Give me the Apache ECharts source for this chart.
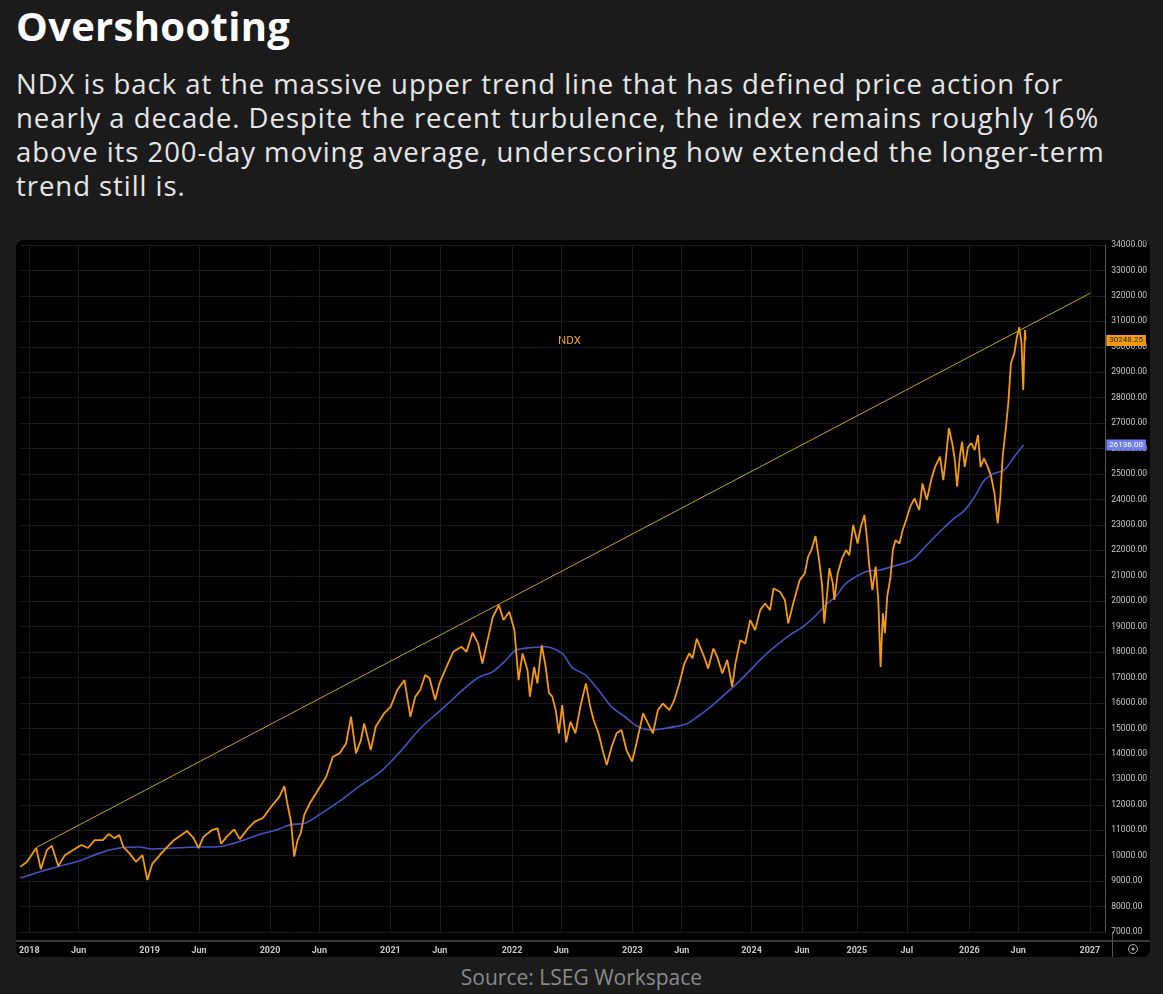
<!DOCTYPE html>
<html>
<head>
    <meta charset="utf-8">
    <title>Overshooting</title>
    <script src="https://cdn.jsdelivr.net/npm/echarts@6/dist/echarts.min.js"></script>
    <style>
        body { margin: 0; background: #1b1b1b; width: 1163px; height: 994px; overflow: hidden; font-family: "Open Sans", sans-serif; }
        #head { position: absolute; left: 16px; top: -2px; color: #fff; font-size: 40px; font-weight: 700; letter-spacing: 0.3px; }
        #text { position: absolute; left: 16px; top: 67px; color: #e6e6e6; font-size: 27.5px; line-height: 34px; letter-spacing: 0.95px; white-space: nowrap; }
        #main { position: absolute; left: 16px; top: 240px; width: 1134px; height: 717px; background: #000; border-radius: 8px; overflow: hidden; }
        #source { position: absolute; left: 0; width: 1163px; top: 963px; text-align: center; color: #8a8a8a; font-size: 21px; }
    </style>
</head>
<body>
    <div id="head">Overshooting</div>
    <div id="text">NDX is back at the massive upper trend line that has defined price action for<br>nearly a decade. Despite the recent turbulence, the index remains roughly 16%<br>above its 200-day moving average, underscoring how extended the longer-term<br>trend still is.</div>
    <div id="main"></div>
    <div id="source">Source: LSEG Workspace</div>
    <script type="text/javascript">
        // NDX price, time in decimal years (as placed on the chart's axis)
        var priceX = [2017.926, 2017.981, 2018.058, 2018.096, 2018.146, 2018.187, 2018.241, 2018.296, 2018.364, 2018.433,
            2018.488, 2018.543, 2018.611, 2018.660, 2018.707, 2018.748, 2018.781, 2018.831, 2018.886, 2018.940,
            2018.981, 2019.022, 2019.104, 2019.201, 2019.310, 2019.365, 2019.406, 2019.447, 2019.516, 2019.565,
            2019.593, 2019.639, 2019.702, 2019.749, 2019.817, 2019.873, 2019.941, 2020.009, 2020.078, 2020.119,
            2020.141, 2020.174, 2020.201, 2020.229, 2020.256, 2020.284, 2020.330, 2020.399, 2020.467, 2020.522,
            2020.577, 2020.632, 2020.673, 2020.714, 2020.755, 2020.782, 2020.837, 2020.878, 2020.947, 2021.002,
            2021.057, 2021.117, 2021.166, 2021.207, 2021.248, 2021.289, 2021.325, 2021.372, 2021.407, 2021.454,
            2021.522, 2021.591, 2021.632, 2021.682, 2021.728, 2021.764, 2021.810, 2021.851, 2021.901, 2021.939,
            2021.988, 2022.030, 2022.065, 2022.098, 2022.139, 2022.159, 2022.194, 2022.221, 2022.257, 2022.290,
            2022.317, 2022.345, 2022.373, 2022.400, 2022.427, 2022.460, 2022.496, 2022.537, 2022.578, 2022.624,
            2022.660, 2022.688, 2022.729, 2022.770, 2022.797, 2022.838, 2022.879, 2022.920, 2022.961, 2023.008,
            2023.044, 2023.099, 2023.140, 2023.181, 2023.222, 2023.263, 2023.318, 2023.359, 2023.400, 2023.442,
            2023.483, 2023.510, 2023.545, 2023.578, 2023.606, 2023.639, 2023.683, 2023.715, 2023.757, 2023.798,
            2023.839, 2023.866, 2023.907, 2023.948, 2023.989, 2024.030, 2024.072, 2024.113, 2024.154, 2024.182,
            2024.236, 2024.277, 2024.305, 2024.346, 2024.400, 2024.442, 2024.470, 2024.497, 2024.532, 2024.565,
            2024.587, 2024.604, 2024.626, 2024.647, 2024.675, 2024.688, 2024.716, 2024.752, 2024.785, 2024.812,
            2024.845, 2024.881, 2024.908, 2024.938, 2024.963, 2024.976, 2025.004, 2025.031, 2025.053, 2025.072,
            2025.091, 2025.108, 2025.127, 2025.155, 2025.174, 2025.196, 2025.229, 2025.256, 2025.284, 2025.319,
            2025.354, 2025.393, 2025.420, 2025.456, 2025.492, 2025.525, 2025.566, 2025.593, 2025.613, 2025.640,
            2025.667, 2025.689, 2025.708, 2025.730, 2025.749, 2025.771, 2025.799, 2025.826, 2025.854, 2025.881,
            2025.903, 2025.930, 2025.963, 2025.991, 2026.018, 2026.045, 2026.067, 2026.086, 2026.114, 2026.133,
            2026.155, 2026.183, 2026.205, 2026.224, 2026.243, 2026.257, 2026.271, 2026.277];
        var priceY = [9560, 9760, 10300, 9470, 10220, 10390, 9590, 10020, 10220, 10420,
            10300, 10610, 10610, 10850, 10690, 10810, 10350, 10100, 9760, 10020,
            9040, 9680, 10130, 10610, 10970, 10690, 10300, 10740, 11000, 11070,
            10470, 10740, 11030, 10650, 11070, 11340, 11480, 11920, 12320, 12730,
            12120, 11340, 9960, 10610, 10900, 11600, 12050, 12580, 13100, 13890,
            14020, 14410, 15460, 14020, 14540, 15200, 14150, 15070, 15590, 15850,
            16510, 16900, 15460, 16250, 16510, 17100, 16970, 16120, 16770, 17290,
            18010, 18210, 18010, 18760, 18340, 17550, 18530, 19380, 19850, 19260,
            19590, 18870, 16900, 17950, 17290, 16250, 17420, 16770, 18270, 17420,
            16400, 16250, 15720, 14810, 15920, 14450, 15270, 14810, 15850, 16770,
            15850, 15330, 14810, 14020, 13560, 14280, 14810, 14940, 14150, 13700,
            14410, 15590, 15200, 14810, 15720, 15980, 15720, 16120, 16770, 17550,
            17950, 17760, 18530, 18140, 17820, 17360, 18140, 17820, 17160, 17690,
            16640, 17550, 18470, 18340, 19260, 18870, 19650, 19910, 19650, 20500,
            20370, 20050, 19130, 19910, 20830, 21090, 21750, 22010, 22560, 21490,
            20570, 19130, 20180, 21300, 20700, 20050, 21090, 21690, 22010, 21810,
            23000, 22270, 22930, 23390, 22270, 21490, 20440, 21360, 20050, 17420,
            19530, 18740, 20180, 20960, 22010, 22400, 22270, 22800, 23190, 23720,
            24040, 23580, 24630, 23980, 24760, 25280, 25680, 24760, 25550, 26800,
            26210, 25550, 24500, 25680, 26270, 25280, 26070, 26210, 25940, 26530,
            25280, 25610, 25280, 24890, 24240, 23060, 24110, 25680, 26860, 27780,
            29350, 29740, 30400, 30770, 30140, 28300, 30660, 30248.25];

        // 200-day moving average
        var maX = [2017.926, 2018.090, 2018.255, 2018.419, 2018.584, 2018.748, 2018.913, 2019.020, 2019.242, 2019.406,
            2019.571, 2019.735, 2019.900, 2020.064, 2020.171, 2020.286, 2020.426, 2020.590, 2020.755, 2020.919,
            2021.084, 2021.248, 2021.413, 2021.495, 2021.632, 2021.742, 2021.851, 2021.961, 2022.044, 2022.180,
            2022.290, 2022.427, 2022.509, 2022.619, 2022.729, 2022.838, 2022.948, 2023.058, 2023.167, 2023.277,
            2023.387, 2023.469, 2023.551, 2023.660, 2023.771, 2023.880, 2023.989, 2024.099, 2024.209, 2024.318,
            2024.428, 2024.538, 2024.620, 2024.702, 2024.785, 2024.949, 2025.058, 2025.168, 2025.333, 2025.442,
            2025.552, 2025.666, 2025.771, 2025.854, 2025.936, 2026.018, 2026.100, 2026.183, 2026.260];
        var maY = [9120, 9370, 9590, 9800, 10100, 10300, 10340, 10260, 10310, 10340,
            10350, 10540, 10810, 11030, 11220, 11270, 11660, 12180, 12770, 13300,
            14100, 15000, 15700, 16050, 16640, 17030, 17230, 17690, 18080, 18180,
            18210, 17950, 17400, 17100, 16510, 15850, 15460, 15070, 14940, 15000,
            15090, 15200, 15460, 15850, 16310, 16770, 17290, 17820, 18270, 18670,
            19000, 19460, 19870, 20200, 20700, 21160, 21220, 21360, 21620, 22140,
            22670, 23190, 23580, 24110, 24760, 25030, 25160, 25680, 26136];

        // upper trend line
        var trendX = [2018.058, 2026.816];
        var trendY = [10320, 32110];

        // x-axis labels and where the chart puts them
        var xTickPos = [2018.0, 2018.41, 2019.0, 2019.41, 2020.0, 2020.41, 2021.0, 2021.41, 2022.01, 2022.42,
            2023.01, 2023.42, 2024.0, 2024.42, 2024.875, 2025.29, 2025.81, 2026.215, 2026.81];
        var xTickText = ['2018', 'Jun', '2019', 'Jun', '2020', 'Jun', '2021', 'Jun', '2022', 'Jun',
            '2023', 'Jun', '2024', 'Jun', '2025', 'Jul', '2026', 'Jun', '2027'];

        function pairs(xs, ys) {
            return xs.map(function (x, i) { return [x, ys[i]]; });
        }

        function lastValueTag(value, bg, fg) {
            return {
                silent: true,
                symbol: 'none',
                lineStyle: { color: 'rgba(0,0,0,0)', width: 0 },
                data: [{ yAxis: value }],
                label: {
                    show: true,
                    position: 'end',
                    distance: 1,
                    formatter: function () { return value.toFixed(2); },
                    backgroundColor: bg,
                    color: fg,
                    fontSize: 8,
                    fontFamily: 'Roboto',
                    padding: [2, 3, 1, 3]
                }
            };
        }

        var myChart = echarts.init(document.getElementById('main'));
        var W = 1134, H = 717;
        var gridRight = 38, gridBottom = 25;
        var lastPrice = priceY[priceY.length - 1];
        var lastMa = maY[maY.length - 1];

        myChart.setOption({
            backgroundColor: '#000',
            animation: false,
            grid: { left: 0, right: gridRight, top: 5, bottom: gridBottom },
            xAxis: {
                type: 'value',
                min: 2017.926,
                max: 2026.939,
                offset: 9,
                axisLine: { show: true, lineStyle: { color: '#3a3a3a', width: 2 } },
                axisTick: { show: true, length: 0, customValues: xTickPos },
                axisLabel: {
                    customValues: xTickPos,
                    color: '#c8c8c8',
                    fontSize: 9,
                    fontWeight: 'bold',
                    fontFamily: 'Roboto',
                    margin: 5,
                    formatter: function (v) {
                        var i = xTickPos.indexOf(v);
                        return i >= 0 ? xTickText[i] : '';
                    }
                },
                splitLine: { show: true, lineStyle: { color: '#1a1a1a', width: 1 } }
            },
            yAxis: {
                type: 'value',
                position: 'right',
                min: 7000,
                max: 34000,
                interval: 1000,
                axisLine: { show: true, lineStyle: { color: '#555', width: 1 } },
                axisTick: { show: false },
                axisLabel: {
                    color: '#c8c8c8',
                    fontSize: 8.5,
                    fontFamily: 'Roboto',
                    margin: 6,
                    formatter: function (v) { return v.toFixed(2); }
                },
                splitLine: { show: true, lineStyle: { color: '#1a1a1a', width: 1 } }
            },
            series: [
                {
                    name: 'Trend',
                    type: 'line',
                    data: pairs(trendX, trendY),
                    symbol: 'none',
                    silent: true,
                    lineStyle: { color: '#b8a820', width: 1 }
                },
                {
                    name: 'MA200',
                    type: 'line',
                    data: pairs(maX, maY),
                    symbol: 'none',
                    smooth: 0.3,
                    silent: true,
                    lineStyle: { color: '#4452c4', width: 1.6 },
                    markLine: lastValueTag(lastMa, '#6f7ff0', '#fff')
                },
                {
                    name: 'NDX',
                    type: 'line',
                    data: pairs(priceX, priceY),
                    symbol: 'none',
                    silent: true,
                    lineStyle: { color: '#f59a0c', width: 1.8 },
                    markLine: lastValueTag(lastPrice, '#f59a0c', '#222')
                }
            ],
            graphic: [
                {
                    type: 'text', left: 542, top: 95, silent: true,
                    style: { text: 'NDX', fill: '#f0a020', fontSize: 11.5, fontFamily: 'Roboto' }
                },
                {
                    type: 'line', silent: true,
                    shape: { x1: 0, y1: H - gridBottom + 9, x2: W, y2: H - gridBottom + 9 },
                    style: { stroke: '#3a3a3a', lineWidth: 2 }
                },
                {
                    type: 'line', silent: true,
                    shape: { x1: W - gridRight + 0.5, y1: H - gridBottom, x2: W - gridRight + 0.5, y2: H },
                    style: { stroke: '#555', lineWidth: 1 }
                },
                {
                    type: 'circle', silent: true,
                    shape: { cx: 1117, cy: 709, r: 4.5 },
                    style: { fill: 'none', stroke: '#aaa', lineWidth: 1 }
                },
                {
                    type: 'circle', silent: true,
                    shape: { cx: 1117, cy: 709, r: 1.5 },
                    style: { fill: '#aaa' }
                }
            ]
        });
    </script>
</body>
</html>
